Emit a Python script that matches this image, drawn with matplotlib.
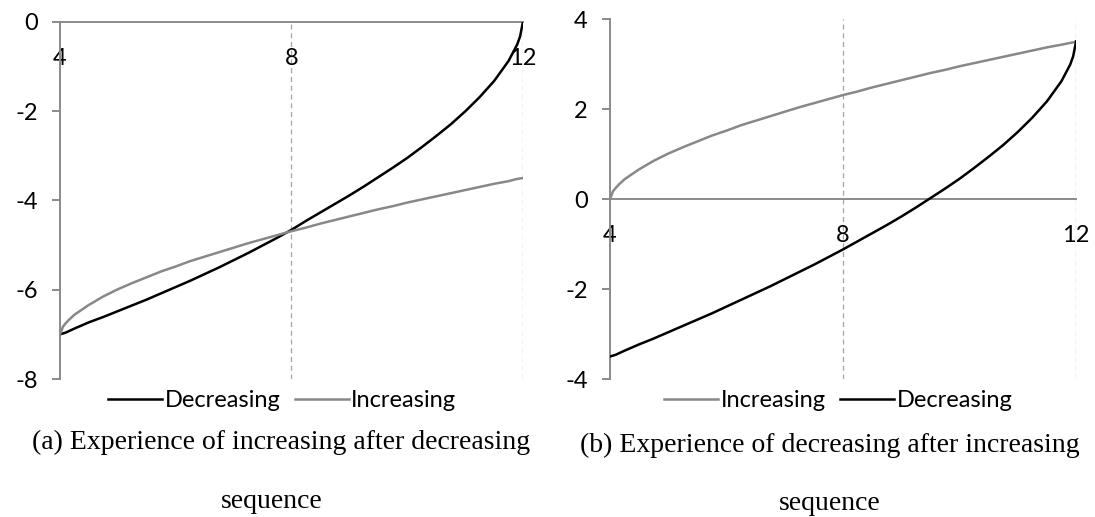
import matplotlib
matplotlib.use("Agg")
import matplotlib.pyplot as plt

# sample positions along the sequence
x = [4, 4.05, 4.1, 4.15, 4.25, 4.5, 4.75, 5, 5.25, 5.5, 5.75, 6, 6.25, 6.5, 6.75, 7, 7.25,
     7.5, 7.75, 8, 8.25, 8.5, 8.75, 9, 9.25, 9.5, 9.75, 10, 10.25, 10.5, 10.75, 11, 11.25,
     11.5, 11.75, 11.9, 11.95, 12]

# (a) increasing after decreasing
a_decreasing = [-7, -6.98, -6.96, -6.93, -6.87, -6.73, -6.61, -6.48, -6.35, -6.22, -6.08,
                -5.94, -5.8, -5.65, -5.5, -5.34, -5.18, -5.01, -4.84, -4.66, -4.46, -4.27,
                -4.08, -3.89, -3.69, -3.48, -3.27, -3.05, -2.81, -2.56, -2.3, -2.01, -1.69,
                -1.33, -0.88, -0.51, -0.33, 0]
a_increasing = [-7, -6.83, -6.75, -6.68, -6.56, -6.34, -6.15, -5.99, -5.85, -5.72, -5.59,
                -5.48, -5.36, -5.26, -5.16, -5.06, -4.96, -4.87, -4.78, -4.69, -4.61, -4.52,
                -4.44, -4.36, -4.28, -4.2, -4.13, -4.05, -3.98, -3.91, -3.84, -3.77, -3.7,
                -3.63, -3.57, -3.52, -3.51, -3.5]

# (b) decreasing after increasing
b_increasing = [0, 0.17, 0.25, 0.32, 0.44, 0.66, 0.85, 1.01, 1.15, 1.28, 1.41, 1.52, 1.64,
                1.74, 1.84, 1.94, 2.04, 2.13, 2.22, 2.31, 2.39, 2.48, 2.56, 2.64, 2.72, 2.8,
                2.87, 2.95, 3.02, 3.09, 3.16, 3.23, 3.3, 3.37, 3.43, 3.47, 3.48, 3.5]
b_decreasing = [-3.5, -3.48, -3.46, -3.43, -3.37, -3.23, -3.1, -2.96, -2.82, -2.68, -2.54,
                -2.39, -2.24, -2.09, -1.94, -1.78, -1.62, -1.46, -1.29, -1.12, -0.94, -0.76,
                -0.58, -0.39, -0.19, 0.02, 0.23, 0.45, 0.69, 0.94, 1.2, 1.49, 1.81, 2.17,
                2.62, 2.99, 3.17, 3.5]

x_ticks = [4, 8, 12]
a_yticks = [0, -2, -4, -6, -8]
b_yticks = [4, 2, 0, -2, -4]

AXIS_GRAY = "#8a8a8a"
LINE_GRAY = "#888888"
plt.rcParams["font.family"] = ["Lato", "DejaVu Sans"]
plt.rcParams["axes.unicode_minus"] = False


def style_axes(ax, ylim, yticks):
    ax.set_xlim(4, 12)
    ax.set_ylim(*ylim)
    ax.set_xticks(x_ticks)
    ax.set_yticks(yticks)
    for side in ("top", "right"):
        ax.spines[side].set_visible(False)
    ax.spines["bottom"].set_position(("data", 0))
    for side in ("left", "bottom"):
        ax.spines[side].set_color(AXIS_GRAY)
        ax.spines[side].set_linewidth(1.4)
    ax.tick_params(axis="x", length=0, pad=19, labelsize=17)
    ax.tick_params(axis="y", length=6, width=1.4, color=AXIS_GRAY, pad=10, labelsize=17)
    # dashed guides at the later tick positions
    for xv in x_ticks[1:]:
        ax.axvline(xv, color="#a6a6a6", linestyle=(0, (4, 3)), linewidth=0.9, zorder=1)


fig = plt.figure(figsize=(10.95, 5.17), dpi=100)

ax1 = fig.add_axes([0.0548, 0.2669, 0.4228, 0.6911])
ax1.plot(x, a_decreasing, color="black", lw=1.8, label="Decreasing", zorder=3)
ax1.plot(x, a_increasing, color=LINE_GRAY, lw=1.8, label="Increasing", zorder=3)
style_axes(ax1, (-8, 0), a_yticks)
ax1.legend(loc="center", bbox_to_anchor=(0.48, -0.06), ncol=2, frameon=False,
           fontsize=17, handlelength=2.3, handletextpad=0.1, columnspacing=0.6)

ax2 = fig.add_axes([0.5571, 0.2669, 0.4256, 0.6963])
ax2.plot(x, b_increasing, color=LINE_GRAY, lw=1.8, label="Increasing", zorder=3)
ax2.plot(x, b_decreasing, color="black", lw=1.8, label="Decreasing", zorder=3)
style_axes(ax2, (-4, 4), b_yticks)
ax2.legend(loc="center", bbox_to_anchor=(0.49, -0.06), ncol=2, frameon=False,
           fontsize=17, handlelength=2.3, handletextpad=0.1, columnspacing=0.6)

cap = dict(family="Liberation Serif", fontsize=20, ha="center", va="center")
fig.text(281 / 1095, 1 - 442 / 517, "(a) Experience of increasing after decreasing", **cap)
fig.text(272 / 1095, 1 - 501 / 517, "sequence", **cap)
fig.text(830 / 1095, 1 - 445 / 517, "(b) Experience of decreasing after increasing", **cap)
fig.text(830 / 1095, 1 - 504 / 517, "sequence", **cap)

fig.savefig("out.png", dpi=100)
